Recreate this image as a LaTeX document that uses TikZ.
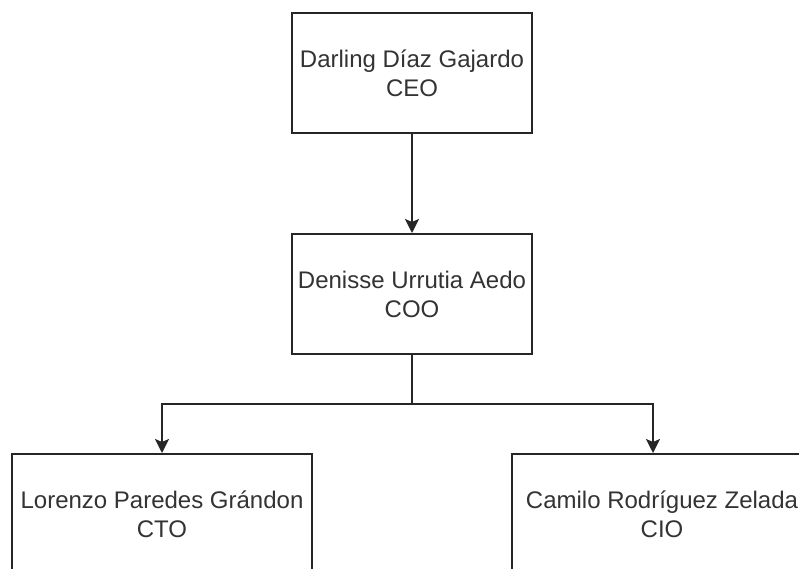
\documentclass[tikz,border=0pt]{standalone}
\usepackage{fontspec}
\setmainfont{Liberation Sans}
\usetikzlibrary{arrows.meta,calc}
\tikzset{
  box/.style={rectangle, draw=black!85, line width=2pt, fill=white, inner sep=0pt,
              align=center, text=black!80, font=\fontsize{24}{29}\selectfont},
  role/.style={box, minimum width=240pt, minimum height=120pt},
  lead/.style={box, minimum width=300pt, minimum height=120pt},
  link/.style={line width=2pt, draw=black!85, -{Stealth[length=14pt,width=14pt,inset=3pt]}},
}
\begin{document}
\begin{tikzpicture}[x=1pt,y=-1pt]
  \clip (0,0) rectangle (799,569);
  \useasboundingbox (0,0) rectangle (799,569);
  \node[role] (ceo) at (412,73) {Darling Díaz Gajardo\\CEO};
  \node[role] (coo) at (412,294) {Denisse Urrutia Aedo\\COO};
  \node[lead] (cto) at (162,514) {Lorenzo Paredes Grándon\\CTO};
  \node[lead] (cio) at (662,514) {Camilo Rodríguez Zelada\\CIO};
  \coordinate (split) at (412,404);
  \draw[link] (ceo) -- (coo);
  \draw[link] (coo.south) -- (split) -| (cto.north);
  \draw[link] (split) -| ([xshift=-9pt]cio.north);
\end{tikzpicture}
\end{document}
